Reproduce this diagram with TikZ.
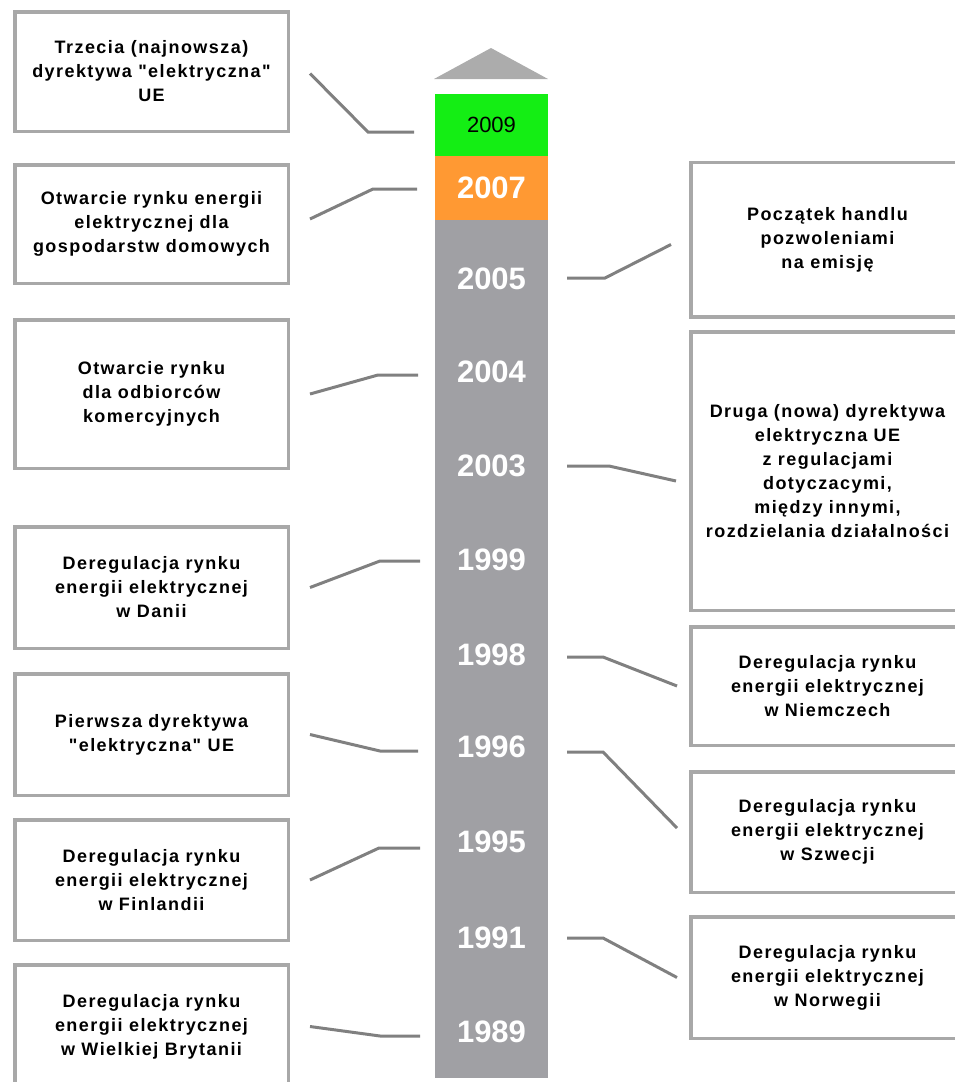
\documentclass[tikz,border=0pt]{standalone}
\usepackage{fontspec}
\setmainfont{Liberation Sans}
\newfontfamily\eventfont{Liberation Sans}[LetterSpace=8]
\usetikzlibrary{positioning, calc}

\definecolor{framegray}{RGB}{168,168,168}
\definecolor{linkgray}{RGB}{128,128,128}
\definecolor{bargray}{RGB}{160,160,164}
\definecolor{arrowgray}{RGB}{172,172,172}
\definecolor{yrgreen}{RGB}{20,238,20}
\definecolor{yrorange}{RGB}{255,153,51}

\begin{document}
\begin{tikzpicture}[
        x=1pt, y=-1pt,
        % --- Styles ---
        eventbox/.style={rectangle, draw=framegray, fill=white, line width=3.5pt, minimum width=273.5pt, align=center, inner sep=2pt, font=\eventfont\bfseries\fontsize{18}{24}\selectfont},
        barseg/.style={rectangle, minimum width=113pt, inner sep=0pt, font=\bfseries\fontsize{31}{31}\selectfont, text=white},
        yearlabel/.style={inner sep=0pt, font=\bfseries\fontsize{31}{31}\selectfont, text=white},
        % --- Line Styles ---
        link/.style={draw, color=linkgray, line width=3pt}
    ]
        \useasboundingbox (0,0) rectangle (955,1082);

        % --- Time Bar ---
        \fill[arrowgray] (434,79) -- (491,48) -- (548,79) -- cycle;
        \node[barseg, fill=bargray, minimum height=858pt] (bar) at (491.5,649) {};
        \node[barseg, fill=yrgreen, minimum height=62pt, text=black, font=\fontsize{22}{22}\selectfont] (y2009) at (491.5,125) {2009};
        \node[barseg, fill=yrorange, minimum height=64pt] (y2007) at (491.5,188) {2007};

        \node[yearlabel] (y2005) at (491.5,279) {2005};
        \node[yearlabel] (y2004) at (491.5,372) {2004};
        \node[yearlabel] (y2003) at (491.5,466) {2003};
        \node[yearlabel] (y1999) at (491.5,560) {1999};
        \node[yearlabel] (y1998) at (491.5,655) {1998};
        \node[yearlabel] (y1996) at (491.5,747) {1996};
        \node[yearlabel] (y1995) at (491.5,842) {1995};
        \node[yearlabel] (y1991) at (491.5,938) {1991};
        \node[yearlabel] (y1989) at (491.5,1032) {1989};

        % --- Ticks beside the bar ---
        \coordinate (t2009) at (414,132);
        \coordinate (t2007) at (417,189);
        \coordinate (t2004) at (418,375);
        \coordinate (t1999) at (420,561);
        \coordinate (t1996l) at (418,751);
        \coordinate (t1995) at (420,848);
        \coordinate (t1989) at (420,1036);
        \coordinate (t2005) at (567,278);
        \coordinate (t2003) at (567,466);
        \coordinate (t1998) at (567,657);
        \coordinate (t1996r) at (567,752);
        \coordinate (t1991) at (567,938);

        % --- Left Column ---
        \node[eventbox, minimum height=119.5pt] (dir3) at (151.5,71.5) {Trzecia (najnowsza)\\dyrektywa "elektryczna"\\UE};
        \node[eventbox, minimum height=118.5pt] (homes) at (151.5,224) {Otwarcie rynku energii\\elektrycznej dla\\gospodarstw domowych};
        \node[eventbox, minimum height=148.5pt] (business) at (151.5,394) {Otwarcie rynku\\dla odbiorców\\komercyjnych};
        \node[eventbox, minimum height=121.5pt] (denmark) at (151.5,587.5) {Deregulacja rynku\\energii elektrycznej\\w Danii};
        \node[eventbox, minimum height=121.5pt] (dir1) at (151.5,734.5) {Pierwsza dyrektywa\\"elektryczna" UE};
        \node[eventbox, minimum height=120.5pt] (finland) at (151.5,880) {Deregulacja rynku\\energii elektrycznej\\w Finlandii};
        \node[eventbox, minimum height=123.5pt] (britain) at (151.5,1026.5) {Deregulacja rynku\\energii elektrycznej\\w Wielkiej Brytanii};

        % --- Right Column ---
        \node[eventbox, minimum height=154.5pt] (emission) at (827.5,239.5) {Początek handlu\\pozwoleniami\\na emisję};
        \node[eventbox, minimum height=278.5pt] (dir2) at (827.5,471) {Druga (nowa) dyrektywa\\elektryczna UE\\z regulacjami\\dotyczacymi,\\między innymi,\\rozdzielania działalności};
        \node[eventbox, minimum height=118.5pt] (germany) at (827.5,686) {Deregulacja rynku\\energii elektrycznej\\w Niemczech};
        \node[eventbox, minimum height=120.5pt] (sweden) at (827.5,832) {Deregulacja rynku\\energii elektrycznej\\w Szwecji};
        \node[eventbox, minimum height=121.5pt] (norway) at (827.5,977.5) {Deregulacja rynku\\energii elektrycznej\\w Norwegii};

        % --- Left Connections ---
        \draw[link] ([xshift=20pt, yshift=-2pt]dir3.east) -- ([xshift=-46pt]t2009) -- (t2009);
        \draw[link] ([xshift=20pt, yshift=5pt]homes.east) -- ([xshift=-44pt]t2007) -- (t2007);
        \draw[link] ([xshift=20pt]business.east) -- ([xshift=-40pt]t2004) -- (t2004);
        \draw[link] ([xshift=20pt]denmark.east) -- ([xshift=-40pt]t1999) -- (t1999);
        \draw[link] ([xshift=20pt]dir1.east) -- ([xshift=-38pt]t1996l) -- (t1996l);
        \draw[link] ([xshift=20pt]finland.east) -- ([xshift=-41pt]t1995) -- (t1995);
        \draw[link] ([xshift=20pt]britain.east) -- ([xshift=-40pt]t1989) -- (t1989);

        % --- Right Connections ---
        \draw[link] (t2005) -- ([xshift=38pt]t2005) -- ([xshift=-18pt, yshift=-5pt]emission.west);
        \draw[link] (t2003) -- ([xshift=42pt]t2003) -- ([xshift=-13pt, yshift=-10pt]dir2.west);
        \draw[link] (t1998) -- ([xshift=36pt]t1998) -- ([xshift=-12pt]germany.west);
        \draw[link] (t1996r) -- ([xshift=36pt]t1996r) -- ([xshift=-12pt, yshift=4pt]sweden.west);
        \draw[link] (t1991) -- ([xshift=36pt]t1991) -- ([xshift=-12pt]norway.west);

    \end{tikzpicture}
\end{document}
